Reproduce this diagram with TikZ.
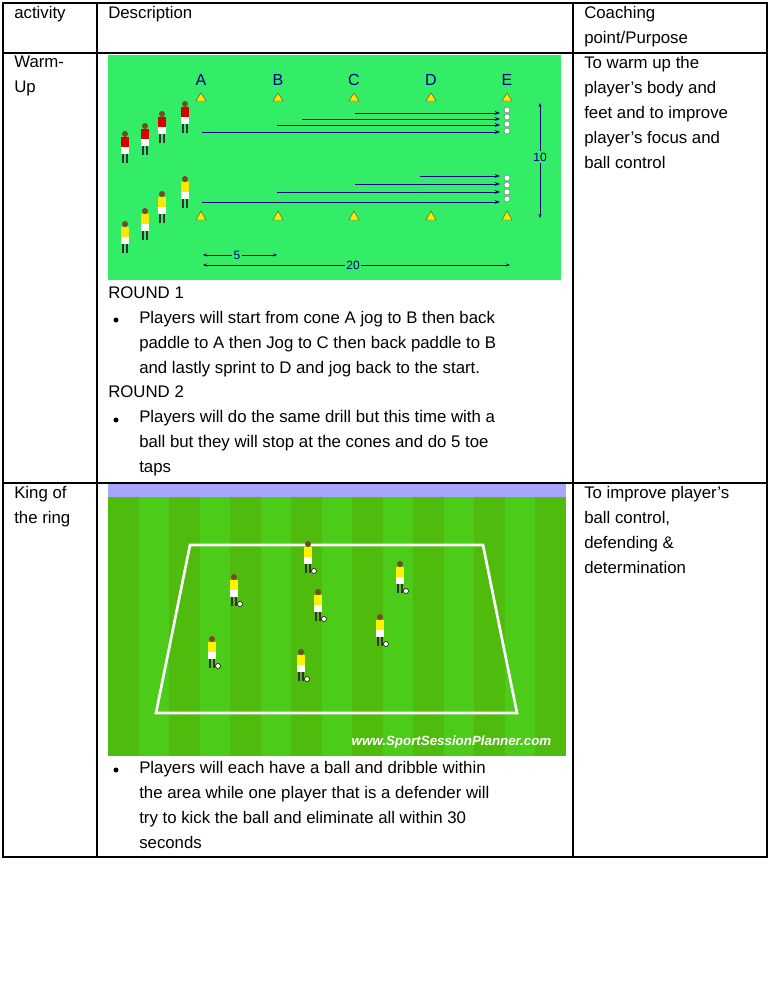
\documentclass[tikz,border=0pt]{standalone}
\usepackage{fontspec}
\setmainfont{Liberation Sans}
\setsansfont{Liberation Sans}
\usetikzlibrary{arrows.meta}
\definecolor{pitch}{rgb}{0.2,0.93,0.4}
\begin{document}
\begin{tikzpicture}[x=0.75pt,y=-0.75pt,
  txt/.style={anchor=north west,inner sep=0pt,align=left,font=\fontsize{12.6pt}{18.75pt}\selectfont},
  cone/.style={fill=yellow!90!orange,draw=black!70,line width=0.3pt},
  arr/.style={draw=blue!50!black,line width=0.6pt,-{Stealth[length=4pt]}},
  dim/.style={draw=blue!40!black,line width=0.5pt,{Stealth[length=3pt]}-{Stealth[length=3pt]}},
  lbl/.style={font=\sffamily\small,text=blue!50!black,inner sep=1pt}]
\useasboundingbox (0,0) rectangle (774,992);
\fill[white] (0,0) rectangle (774,992);
\newcommand{\plyr}[3]{%
  \fill[black!80] (#1-3,#2+8) rectangle (#1-1,#2+18);
  \fill[black!80] (#1+1,#2+8) rectangle (#1+3,#2+18);
  \fill[white] (#1-4,#2+2) rectangle (#1+4,#2+9);
  \fill[#3] (#1-4,#2-8) rectangle (#1+4,#2+2);
  \fill[brown!60!black] (#1,#2-11) circle (3);}
% image 1
\fill[pitch] (108,55) rectangle (561,280);
\foreach \x/\l in {201/A,278/B,354/C,431/D,507/E}{
  \node[lbl,font=\sffamily\large] (l\l) at (\x,80) {\l};
  \fill[cone] (\x-5,101) -- (\x+5,101) -- (\x,93) -- cycle;
  \fill[cone] (\x-5,220) -- (\x+5,220) -- (\x,211) -- cycle;}
\foreach \y in {110,117,124,131,178,185,192,199}{\fill[white,draw=black!60,line width=0.3pt] (507,\y) circle (3);}
\foreach \xs/\y in {355/113,302/119,277/125,202/132,420/176,355/184,277/192,202/202}{
  \coordinate (s\y) at (\xs,\y); \coordinate (e\y) at (500,\y);
  \draw[arr] (s\y) -- (e\y);}
\coordinate (d1) at (540,103); \coordinate (d2) at (540,218);
\draw[dim] (d1) -- (d2); \node[lbl,fill=pitch] at (540,157) {10};
\coordinate (f1) at (203,255); \coordinate (f2) at (277,255);
\draw[dim] (f1) -- (f2); \node[lbl,fill=pitch] at (237,255) {5};
\coordinate (g1) at (203,265); \coordinate (g2) at (510,265);
\draw[dim] (g1) -- (g2); \node[lbl,fill=pitch] at (353,265) {20};
\foreach \x/\y in {125/145,145/137,162/125,185/115}{\plyr{\x}{\y}{red!85!black}}
\foreach \x/\y in {125/235,145/222,162/205,185/190}{\plyr{\x}{\y}{yellow!90!orange}}
% image 2
\fill[blue!35!white] (108,484) rectangle (566,497);
\fill[green!55!olive!90] (108,497) rectangle (566,756);
\foreach \i in {0,2,...,14}{\fill[green!45!olive!95] (108+\i*30.5,497) rectangle (108+\i*30.5+30.5,756);}
\draw[white,line width=2pt] (190,545) -- (483,545) -- (517,713) -- (156,713) -- cycle;
\foreach \x/\y in {308/555,234/588,400/575,318/603,380/628,212/650,301/663}{
  \plyr{\x}{\y}{yellow}
  \fill[white,draw=black] (\x+6,\y+16) circle (2.5);}
\node[font=\sffamily\bfseries\itshape,text=white,anchor=east] at (556,742) {www.SportSessionPlanner.com};
% table
\draw[line width=0.8pt] (3,3) rectangle (767,857);
\draw[line width=0.8pt] (97,3) -- (97,857) (573,3) -- (573,857) (3,53) -- (767,53) (3,483) -- (767,483);
% texts
\node[txt] at (14,6) {activity};
\node[txt] at (108,6) {Description};
\node[txt] at (584,6) {Coaching\\point/Purpose};
\node[txt] at (14,56) {Warm-\\Up};
\node[txt] at (584,56) {To warm up the\\player’s body and\\feet and to improve\\player’s focus and\\ball control};
\node[txt] at (108,286) {ROUND 1};
\node[txt] at (139,311) {Players will start from cone A jog to B then back\\paddle to A then Jog to C then back paddle to B\\and lastly sprint to D and jog back to the start.};
\node[txt] at (108,385) {ROUND 2};
\node[txt] at (139,410) {Players will do the same drill but this time with a\\ball but they will stop at the cones and do 5 toe\\taps};
\node[txt] at (14,486) {King of\\the ring};
\node[txt] at (584,486) {To improve player’s\\ball control,\\defending \&\\determination};
\node[txt] at (139,761) {Players will each have a ball and dribble within\\the area while one player that is a defender will\\try to kick the ball and eliminate all within 30\\seconds};
\foreach \y in {320,420,770}{\fill (116,\y) circle (2.5);}
\end{tikzpicture}
\end{document}
